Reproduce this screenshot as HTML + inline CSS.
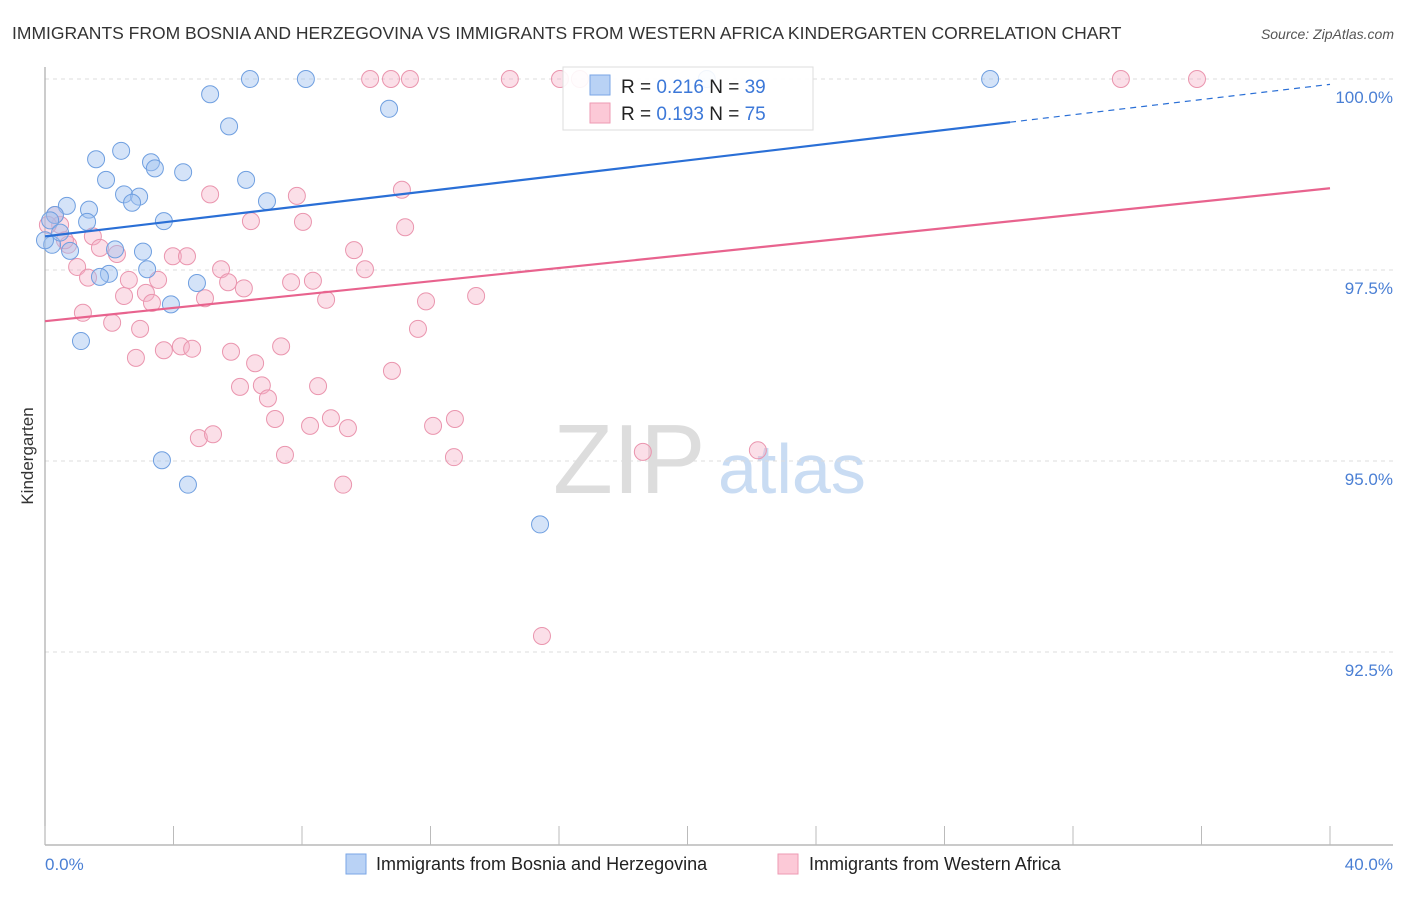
<!DOCTYPE html>
<html><head><meta charset="utf-8"><style>
body{margin:0;background:#fff;font-family:"Liberation Sans",sans-serif;}
svg text{font-family:"Liberation Sans",sans-serif;}
</style></head><body>
<svg width="1406" height="892" viewBox="0 0 1406 892" xmlns="http://www.w3.org/2000/svg">
<text x="12" y="39" font-size="17.5" fill="#333">IMMIGRANTS FROM BOSNIA AND HERZEGOVINA VS IMMIGRANTS FROM WESTERN AFRICA KINDERGARTEN CORRELATION CHART</text>
<text x="1394" y="39" font-size="14" fill="#555" font-style="italic" text-anchor="end">Source: ZipAtlas.com</text>
<g>
<text x="553" y="493" font-size="98" fill="#ddd" font-family="Liberation Serif">ZIP</text>
<text x="718" y="493" font-size="70" fill="#c9dcf3">atlas</text>
</g>
<g id="grid"></g>
<line x1="45" y1="67" x2="45" y2="845" stroke="#aaa" stroke-width="1.2"/>
<line x1="45" y1="845" x2="1393" y2="845" stroke="#aaa" stroke-width="1.2"/>
<g id="ticks"></g>
<text transform="translate(33,456) rotate(-90)" font-size="17" fill="#333" text-anchor="middle">Kindergarten</text>
<text x="45" y="870" font-size="17" fill="#4a7fd4">0.0%</text>
<text x="1393" y="870" font-size="17" fill="#4a7fd4" text-anchor="end">40.0%</text>
<g id="pts"></g>
<g id="lines"></g>
<g>
<rect x="563" y="67" width="250" height="63" fill="#fff" fill-opacity="0.9" stroke="#ddd"/>
<rect x="590" y="75" width="20" height="20" fill="#b9d2f5" stroke="#7aa6e6"/>
<rect x="590" y="103" width="20" height="20" fill="#fcc9d7" stroke="#ee9ab3"/>
<text x="621" y="93" font-size="19" fill="#222">R = <tspan fill="#3c78d8">0.216</tspan>   N = <tspan fill="#3c78d8">39</tspan></text>
<text x="621" y="120" font-size="19" fill="#222">R = <tspan fill="#3c78d8">0.193</tspan>   N = <tspan fill="#3c78d8">75</tspan></text>
</g>
<g>
<rect x="346" y="854" width="20" height="20" fill="#b9d2f5" stroke="#7aa6e6"/>
<text x="376" y="870" font-size="18" fill="#222">Immigrants from Bosnia and Herzegovina</text>
<rect x="778" y="854" width="20" height="20" fill="#fcc9d7" stroke="#ee9ab3"/>
<text x="809" y="870" font-size="18" fill="#222">Immigrants from Western Africa</text>
</g>
</svg>
<script>
const yTicks=[100,97.5,95,92.5];
const yTickLabels=["100.0%","97.5%","95.0%","92.5%"];
const xTicks=[0,4,8,12,16,20,24,28,32,36,40];
const blueX=[6.38,8.12,20.6,29.42,5.14,10.71,5.73,2.37,1.59,3.30,3.42,4.30,1.90,6.26,2.46,2.93,2.71,6.91,0.68,1.37,0.31,3.70,1.31,0.16,0.78,2.18,3.05,3.18,1.99,1.71,4.73,3.92,1.12,3.64,4.45,15.41,0.22,0.0,0.47];
const blueY=[100,100,100,100,99.80,99.61,99.38,99.06,98.95,98.91,98.83,98.78,98.68,98.68,98.49,98.46,98.38,98.40,98.34,98.29,98.22,98.14,98.13,98.15,97.75,97.77,97.74,97.51,97.45,97.41,97.33,97.05,96.57,95.01,94.69,94.17,97.83,97.89,97.99];
const pinkX=[10.12,10.77,11.36,14.47,16.03,16.65,33.49,35.86,5.14,7.84,11.11,6.41,8.03,11.21,1.49,0.72,1.71,2.24,9.62,3.98,4.42,1.0,5.48,9.96,1.34,2.61,3.52,5.70,7.66,8.34,6.19,2.46,3.14,4.98,8.75,11.86,13.42,3.33,1.18,2.09,2.96,11.61,7.35,3.70,4.23,4.58,5.79,2.83,6.54,10.80,6.07,6.75,8.50,6.94,7.16,8.90,8.25,9.43,12.08,12.76,4.79,5.23,7.47,12.73,18.61,22.19,9.28,15.47,0.47,0.31,0.09,0.62];
const pinkY=[100,100,100,100,100,100,100,100,98.49,98.47,98.55,98.14,98.13,98.06,97.94,97.83,97.79,97.71,97.76,97.68,97.68,97.54,97.51,97.51,97.40,97.37,97.37,97.34,97.34,97.36,97.26,97.16,97.20,97.13,97.11,97.09,97.16,97.07,96.94,96.81,96.73,96.73,96.50,96.45,96.50,96.47,96.43,96.35,96.28,96.18,95.97,95.99,95.98,95.82,95.55,95.56,95.46,95.43,95.46,95.55,95.30,95.35,95.08,95.05,95.12,95.14,94.69,92.71,98.09,98.22,98.09,97.89];
const blueTrend=[97.94,99.93];
const pinkTrend=[96.83,98.57];
const blueSolidEnd=30.04;
const NS="http://www.w3.org/2000/svg";
const X=v=>45+v*32.125;
const Y=v=>79+(100-v)*76.4;
function mk(t,a,p){const e=document.createElementNS(NS,t);for(const k in a)e.setAttribute(k,a[k]);p.appendChild(e);return e;}
const grid=document.getElementById('grid');
yTicks.forEach((t,i)=>{
 const l=mk('line',{x1:45,x2:1393,y1:Y(t),y2:Y(t),stroke:'#ddd','stroke-dasharray':'4,4'},grid);
 
 
 const tx=mk('text',{x:1393,y:Y(t)+24,'font-size':17,fill:'#4a7fd4','text-anchor':'end'},grid);
 tx.textContent=yTickLabels[i];
 
 
});
const tk=document.getElementById('ticks');
xTicks.forEach(t=>{
 const l=mk('line',{x1:X(t),x2:X(t),y1:826,y2:845,stroke:'#bbb'},tk);
 
 
});
const pts=document.getElementById('pts');
pinkX.forEach((x,i)=>{
 const c=mk('circle',{cx:X(x),cy:Y(pinkY[i]),r:8.5,fill:'rgba(246,176,198,0.4)',stroke:'#ea95ae','stroke-width':1},pts);
 
 
});
blueX.forEach((x,i)=>{
 const c=mk('circle',{cx:X(x),cy:Y(blueY[i]),r:8.5,fill:'rgba(160,194,240,0.45)',stroke:'#6f9fe0','stroke-width':1},pts);
 
 
});
const ln=document.getElementById('lines');
const bAt=x=>blueTrend[0]+(blueTrend[1]-blueTrend[0])*x/40;
const l1=mk('line',{x1:X(0),y1:Y(bAt(0)),x2:X(blueSolidEnd),y2:Y(bAt(blueSolidEnd)),stroke:'#2a6fd6','stroke-width':2.2},ln);


const l2=mk('line',{x1:X(blueSolidEnd),y1:Y(bAt(blueSolidEnd)),x2:X(40),y2:Y(bAt(40)),stroke:'#2a6fd6','stroke-width':1.2,'stroke-dasharray':'6,5'},ln);


const l3=mk('line',{x1:X(0),y1:Y(pinkTrend[0]),x2:X(40),y2:Y(pinkTrend[1]),stroke:'#e8638e','stroke-width':2.2},ln);


</script>
</body></html>
